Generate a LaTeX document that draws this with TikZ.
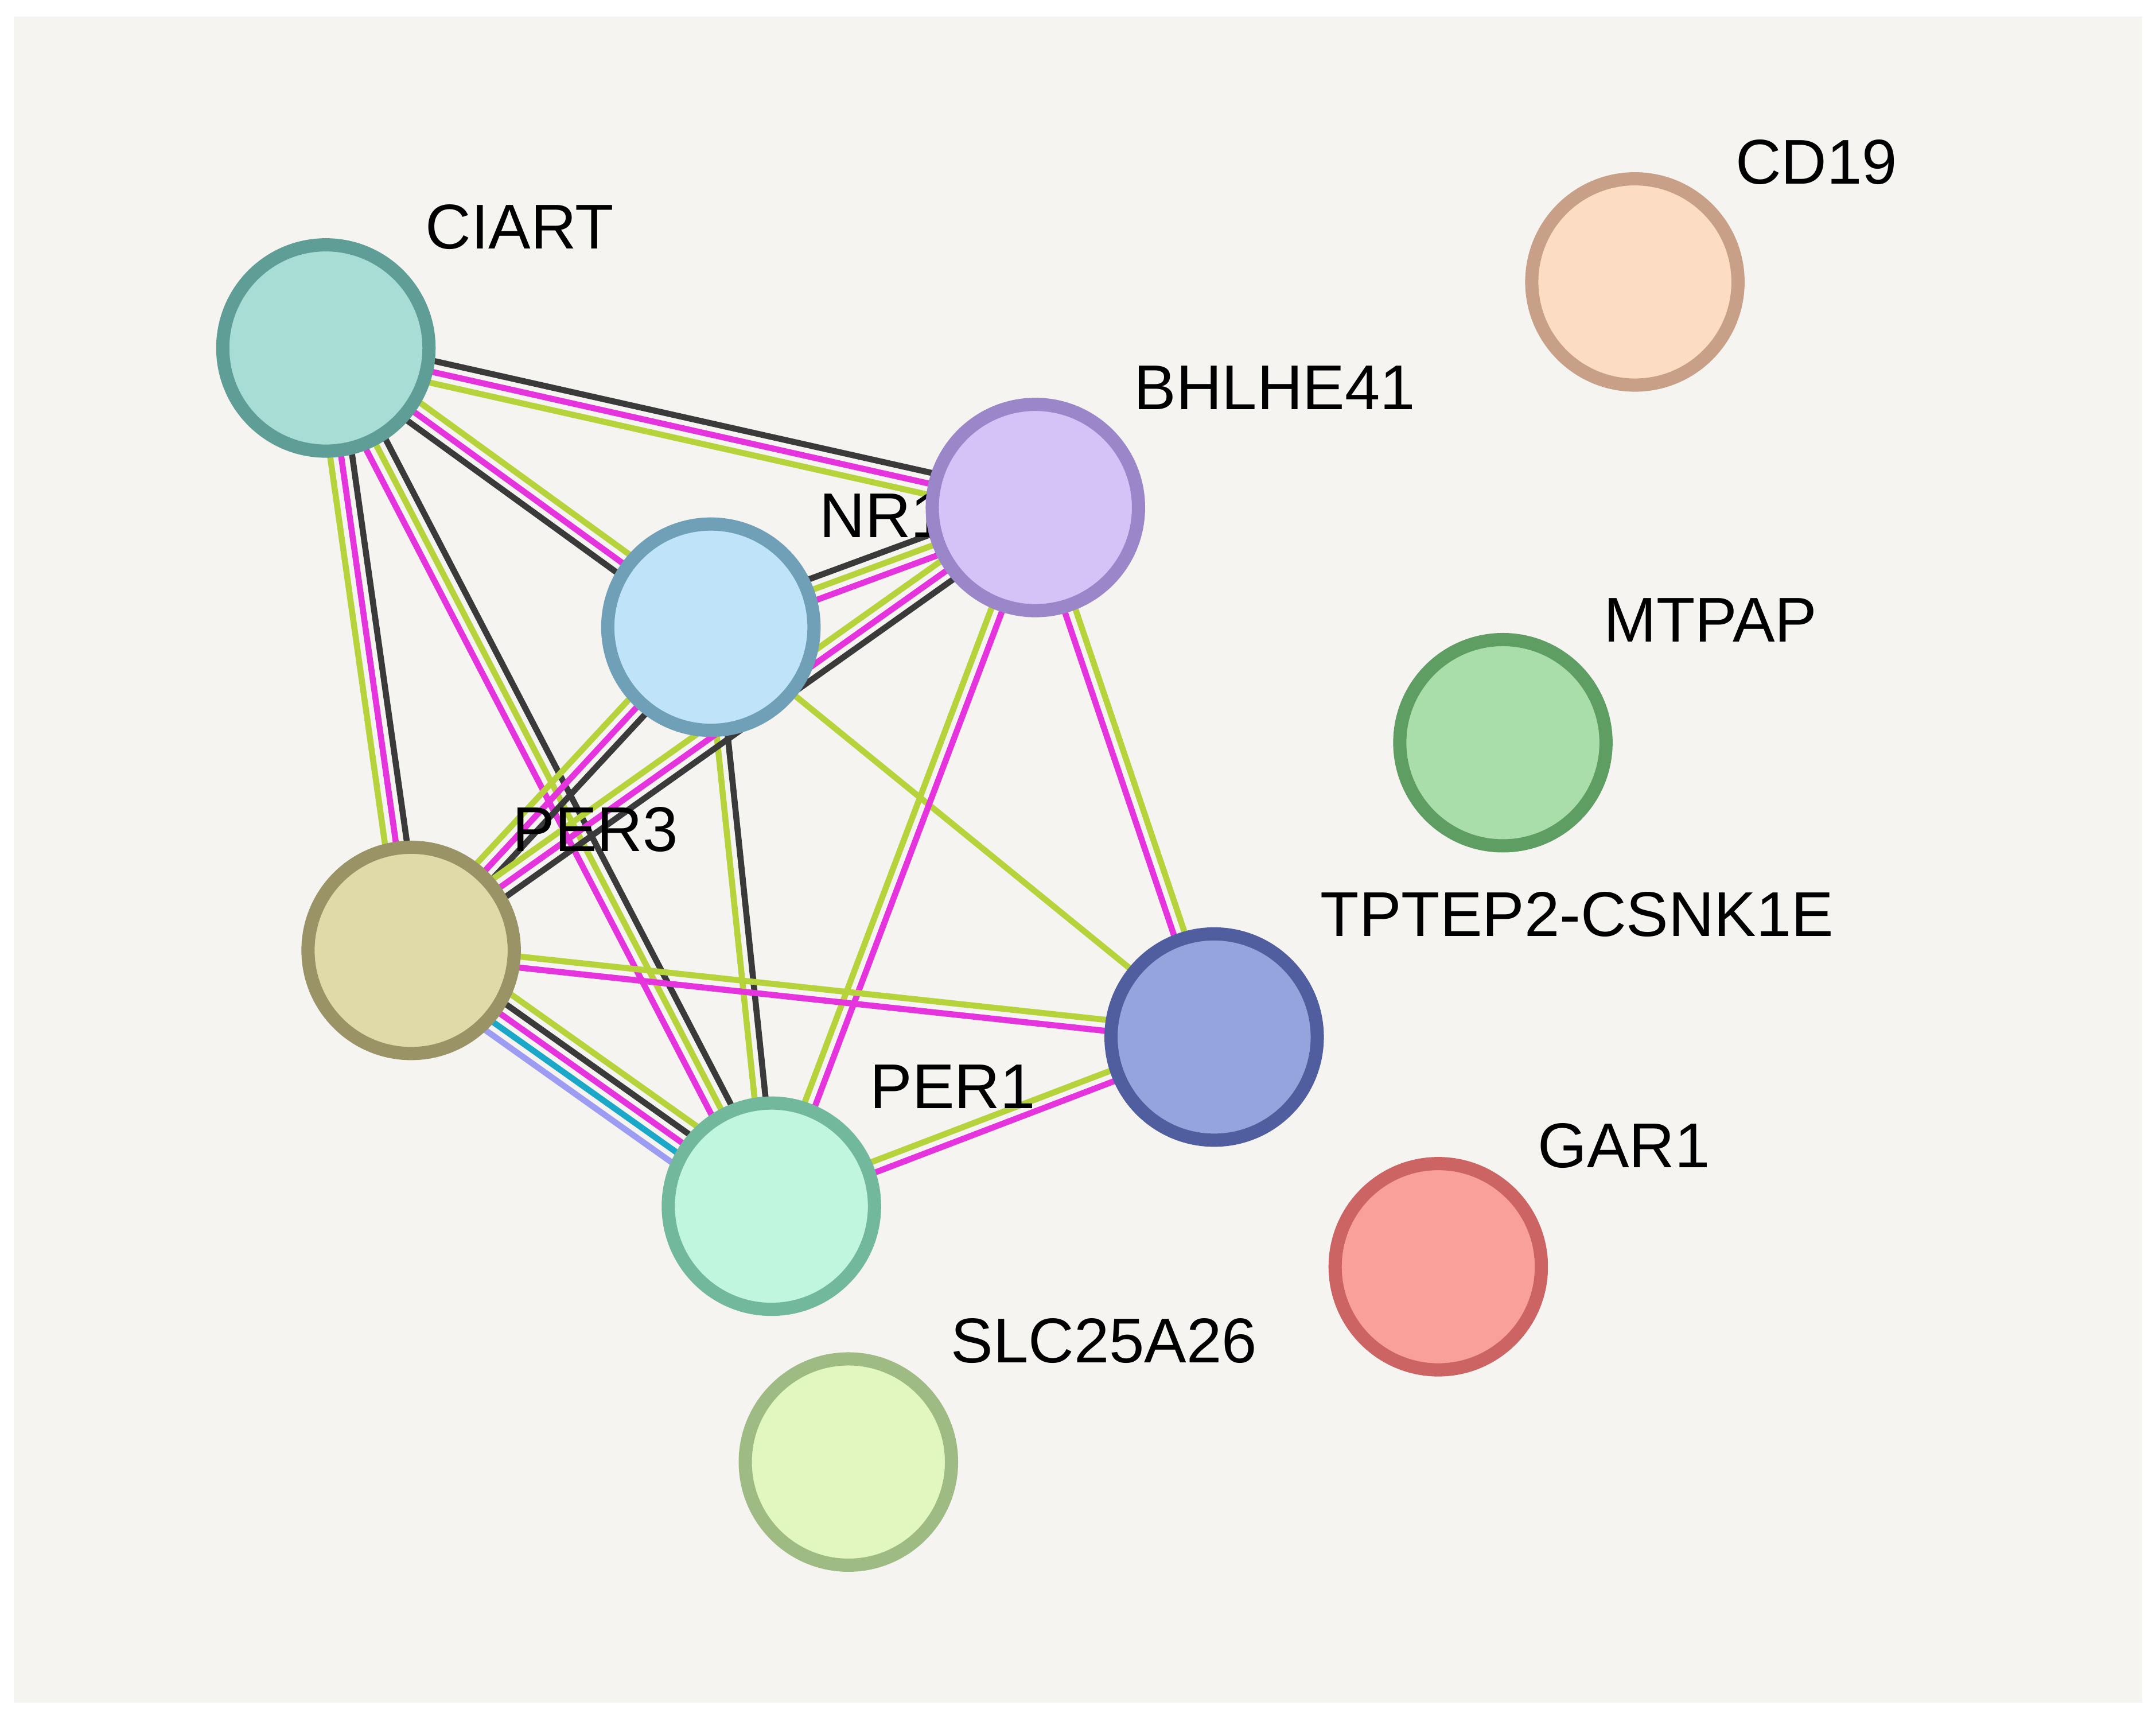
\documentclass[tikz,border=0pt]{standalone}
\usepackage{fontspec}
\setmainfont{Liberation Sans}
\usetikzlibrary{calc}
\definecolor{yg}{HTML}{B7D33B}\definecolor{mg}{HTML}{E533DE}\definecolor{bk}{HTML}{3A3A3A}
\definecolor{cy}{HTML}{1BA8C8}\definecolor{lv}{HTML}{9C9CF3}\definecolor{bg}{HTML}{F5F4F1}
\definecolor{dCI}{RGB}{94,158,150}\definecolor{fCI}{RGB}{168,221,214}
\definecolor{dBH}{RGB}{154,134,200}\definecolor{fBH}{RGB}{213,194,247}
\definecolor{dNR}{RGB}{111,160,184}\definecolor{fNR}{RGB}{191,228,250}
\definecolor{dP3}{RGB}{154,147,102}\definecolor{fP3}{RGB}{224,218,168}
\definecolor{dP1}{RGB}{114,184,156}\definecolor{fP1}{RGB}{192,245,222}
\definecolor{dTP}{RGB}{80,94,160}\definecolor{fTP}{RGB}{150,164,221}
\definecolor{dCD}{RGB}{200,160,136}\definecolor{fCD}{RGB}{252,221,195}
\definecolor{dMT}{RGB}{95,158,98}\definecolor{fMT}{RGB}{169,221,170}
\definecolor{dGA}{RGB}{204,100,100}\definecolor{fGA}{RGB}{249,160,154}
\definecolor{dSL}{RGB}{158,187,132}\definecolor{fSL}{RGB}{226,247,192}
\newcommand\gedge[4]{%
 \foreach \c [count=\i] in {#4}{%
  \pgfmathsetmacro\o{(\i-(#3+1)/2)*4.0}
  \draw[line width=2.2pt,\c] ($(#1)!\o pt!90:(#2)$) -- ($(#2)!\o pt!-90:(#1)$);}}
\tikzset{prot/.style={circle,minimum size=75pt,line width=4.8pt,draw=d#1,fill=f#1},
 lab/.style={font=\fontsize{23}{23}\selectfont,anchor=center}}
\begin{document}
\begin{tikzpicture}[x=0.5pt,y=-0.5pt]
\useasboundingbox (0,0) rectangle (1568,1248);
\fill[white] (0,0) rectangle (1568,1248);
\fill[bg] (10,12) rectangle (1558,1238);
\coordinate (CIART) at (237,253);
\coordinate (BH) at (753,369);
\coordinate (NR) at (517,456);
\coordinate (PER3) at (299,691);
\coordinate (PER1) at (561,877);
\coordinate (TP) at (883,754);
\gedge{CIART}{BH}{3}{yg,mg,bk}
\gedge{CIART}{NR}{3}{bk,mg,yg}
\gedge{CIART}{PER3}{3}{yg,mg,bk}
\gedge{CIART}{PER1}{3}{mg,yg,bk}
\gedge{NR}{BH}{3}{mg,yg,bk}
\gedge{NR}{PER3}{3}{yg,mg,bk}
\gedge{NR}{PER1}{2}{yg,bk}
\gedge{NR}{TP}{1}{yg}
\gedge{BH}{PER3}{3}{yg,mg,bk}
\gedge{BH}{PER1}{2}{yg,mg}
\gedge{BH}{TP}{2}{mg,yg}
\gedge{PER3}{PER1}{5}{lv,cy,mg,bk,yg}
\gedge{PER3}{TP}{2}{mg,yg}
\gedge{PER1}{TP}{2}{mg,yg}
\node[lab,anchor=west] (lNR) at (589,375) {NR1D1};
\node[prot=CI] (nCIART) at (CIART) {};
\node[prot=BH] (nBH) at (BH) {};
\node[prot=NR] (nNR) at (NR) {};
\node[prot=P3] (nPER3) at (PER3) {};
\node[prot=P1] (nPER1) at (PER1) {};
\node[prot=TP] (nTP) at (TP) {};
\node[prot=CD] (nCD) at (1189,205) {};
\node[prot=MT] (nMT) at (1093,540) {};
\node[prot=GA] (nGA) at (1046,921) {};
\node[prot=SL] (nSL) at (617,1063) {};
\node[lab] at (378,165) {CIART};
\node[lab] at (927,282) {BHLHE41};
\node[lab] at (433,603) {PER3};
\node[lab] at (693,790) {PER1};
\node[lab] at (1147,665) {TPTEP2-CSNK1E};
\node[lab] at (1321,118) {CD19};
\node[lab] at (1244,451) {MTPAP};
\node[lab] at (1181,833) {GAR1};
\node[lab] at (803,975) {SLC25A26};
\end{tikzpicture}
\end{document}
